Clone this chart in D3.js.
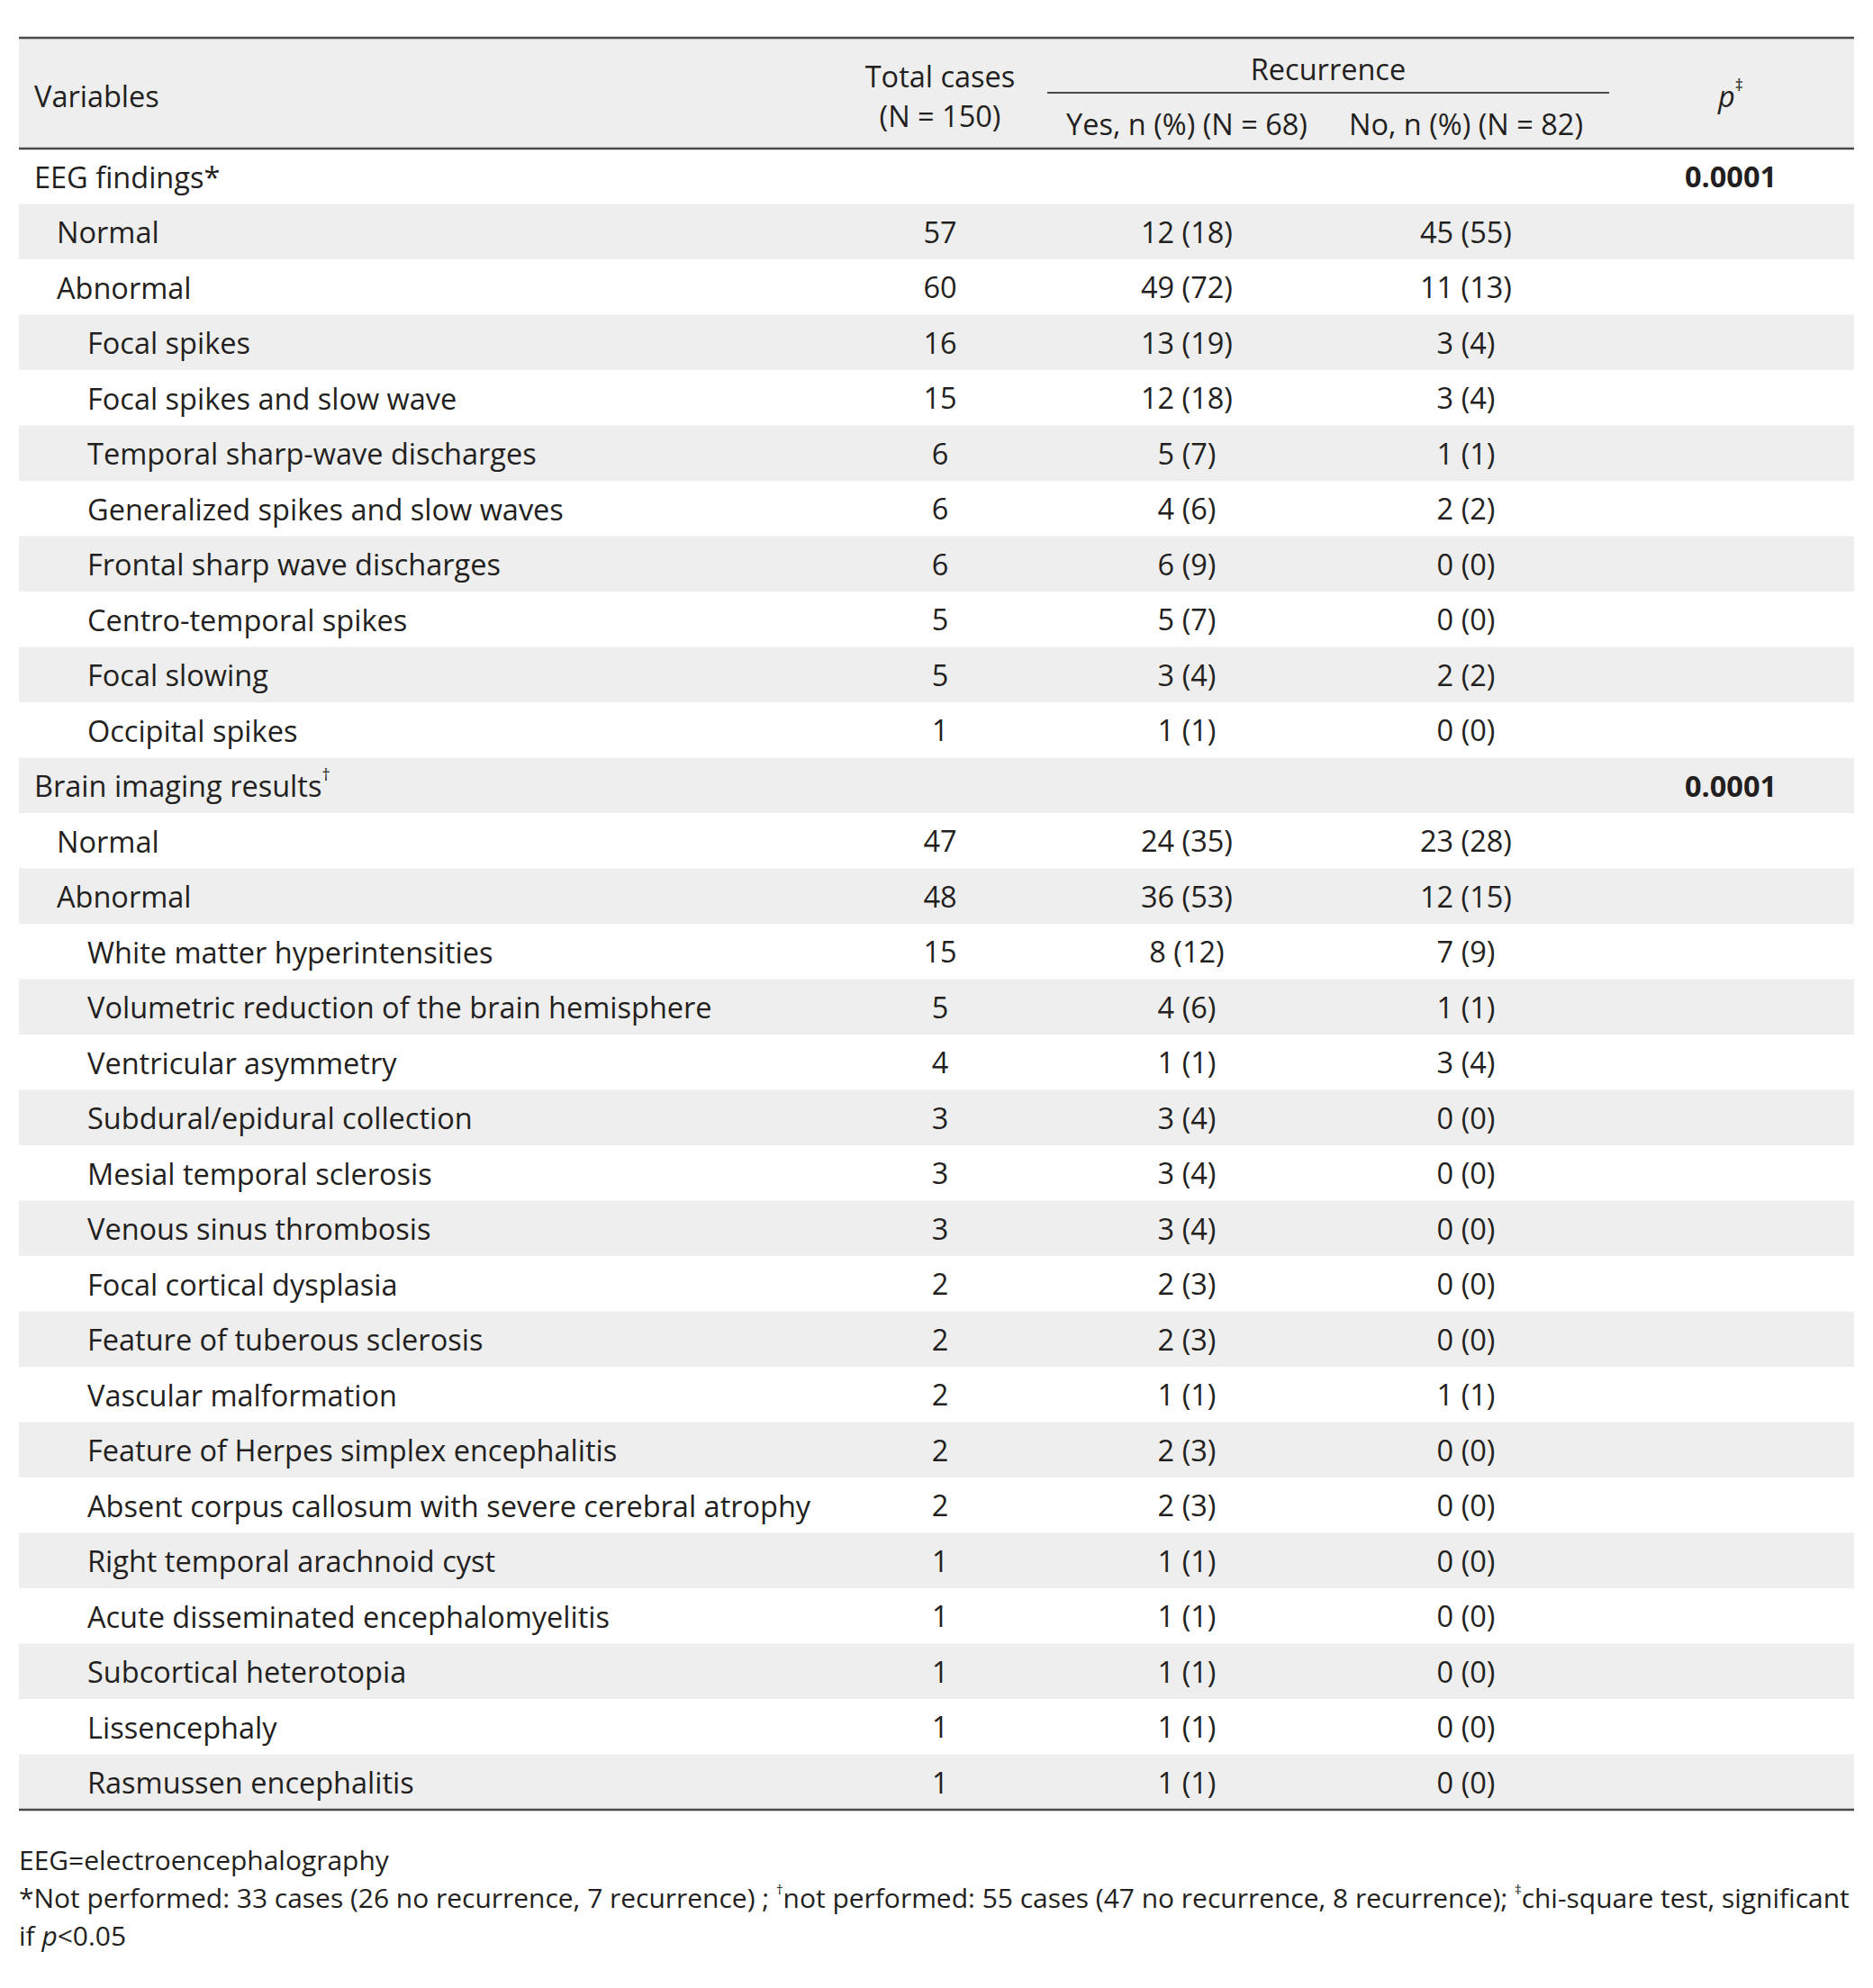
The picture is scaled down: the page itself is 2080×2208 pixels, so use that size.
<!DOCTYPE html>
<html>
<head>
<meta charset="utf-8">
<script src="https://cdn.jsdelivr.net/npm/d3@7"></script>
<style>
  html, body { margin: 0; padding: 0; background: #fff; }
  svg { display: block; }
  text { font-family: "Open Sans", "Noto Sans", sans-serif; fill: #231f20; }
</style>
</head>
<body>
<svg id="chart" width="2080" height="2208"></svg>
<script>
// ---- data ----
const labels = [
  "EEG findings", "Normal", "Abnormal", "Focal spikes", "Focal spikes and slow wave",
  "Temporal sharp-wave discharges", "Generalized spikes and slow waves",
  "Frontal sharp wave discharges", "Centro-temporal spikes", "Focal slowing", "Occipital spikes",
  "Brain imaging results", "Normal", "Abnormal", "White matter hyperintensities",
  "Volumetric reduction of the brain hemisphere", "Ventricular asymmetry",
  "Subdural/epidural collection", "Mesial temporal sclerosis", "Venous sinus thrombosis",
  "Focal cortical dysplasia", "Feature of tuberous sclerosis", "Vascular malformation",
  "Feature of Herpes simplex encephalitis", "Absent corpus callosum with severe cerebral atrophy",
  "Right temporal arachnoid cyst", "Acute disseminated encephalomyelitis",
  "Subcortical heterotopia", "Lissencephaly", "Rasmussen encephalitis"
];
const labelMarks = ["*", "", "", "", "", "", "", "", "", "", "", "\u2020", "", "", "", "", "", "", "", "", "", "", "", "", "", "", "", "", "", ""];
const levels = [0,1,1,2,2,2,2,2,2,2,2, 0,1,1,2,2,2,2,2,2,2,2,2,2,2,2,2,2,2,2];
const totals = [null,57,60,16,15,6,6,6,5,5,1, null,47,48,15,5,4,3,3,3,2,2,2,2,2,1,1,1,1,1];
const yesN   = [null,12,49,13,12,5,4,6,5,3,1, null,24,36,8,4,1,3,3,3,2,2,1,2,2,1,1,1,1,1];
const yesPct = [null,18,72,19,18,7,6,9,7,4,1, null,35,53,12,6,1,4,4,4,3,3,1,3,3,1,1,1,1,1];
const noN    = [null,45,11,3,3,1,2,0,0,2,0, null,23,12,7,1,3,0,0,0,0,0,1,0,0,0,0,0,0,0];
const noPct  = [null,55,13,4,4,1,2,0,0,2,0, null,28,15,9,1,4,0,0,0,0,0,1,0,0,0,0,0,0,0];
const pValues = ["0.0001", null,null,null,null,null,null,null,null,null,null, "0.0001", null,null,null,null,null,null,null,null,null,null,null,null,null,null,null,null,null,null];
const columnKeys = ["total", "yes", "no", "p"];
const headerTotal = ["Total cases", "(N = 150)"];
const headerYes = "Yes, n (%) (N = 68)";
const headerNo = "No, n (%) (N = 82)";
const footnotes = ["EEG=electroencephalography"];

// ---- layout ----
const svg = d3.select("#chart");
const left = 21, right = 2059;
const topY = 42, headBottom = 165, bottomY = 2010;
const fs = 32.5;
const stripe = "#eeeeee";
const lineColor = "#4a4a4a";

const y = d3.scaleBand().domain(d3.range(labels.length)).range([headBottom, bottomY]).padding(0);
const xCol = d3.scaleOrdinal().domain(columnKeys).range([1044, 1318, 1628, 1922]);
const indent = d3.scaleOrdinal().domain([0,1,2]).range([38, 63, 97]);

// header background
svg.append("rect").attr("x", left).attr("y", topY).attr("width", right-left).attr("height", headBottom-topY).attr("fill", stripe);

// stripes
svg.append("g").selectAll("rect").data(d3.range(labels.length).filter(i => i % 2 === 1)).join("rect")
  .attr("x", left).attr("y", i => y(i)).attr("width", right-left).attr("height", y.bandwidth()).attr("fill", stripe);

// lines
const hl = (yy, x1, x2, w) => svg.append("line").attr("x1", x1).attr("x2", x2).attr("y1", yy).attr("y2", yy)
  .attr("stroke", lineColor).attr("stroke-width", w);
hl(topY, left, right, 2.5);
hl(headBottom, left, right, 2.5);
hl(bottomY, left, right, 2.5);
hl(103, 1163, 1787, 1.8);

// header text
const hdr = svg.append("g").attr("font-size", fs);
hdr.append("text").attr("x", 38).attr("y", 106).attr("dominant-baseline", "central").text("Variables");
hdr.append("text").attr("x", xCol("total")).attr("y", 84).attr("text-anchor", "middle").attr("dominant-baseline", "central").text(headerTotal[0]);
hdr.append("text").attr("x", xCol("total")).attr("y", 128).attr("text-anchor", "middle").attr("dominant-baseline", "central").text(headerTotal[1]);
hdr.append("text").attr("x", (1163+1787)/2).attr("y", 76).attr("text-anchor", "middle").attr("dominant-baseline", "central").text("Recurrence");
hdr.append("text").attr("x", xCol("yes")).attr("y", 137).attr("text-anchor", "middle").attr("dominant-baseline", "central").text(headerYes);
hdr.append("text").attr("x", xCol("no")).attr("y", 137).attr("text-anchor", "middle").attr("dominant-baseline", "central").text(headerNo);
const pt = hdr.append("text").attr("x", xCol("p")).attr("y", 106).attr("text-anchor", "middle").attr("dominant-baseline", "central");
pt.append("tspan").attr("font-style", "italic").text("p");
pt.append("tspan").attr("font-size", 18).attr("dy", -12).text("\u2021");

// body rows
const rows = svg.append("g").attr("font-size", fs).selectAll("g").data(d3.range(labels.length)).join("g")
  .attr("transform", i => `translate(0,${y(i) + y.bandwidth()/2})`);

const lab = rows.append("text").attr("x", i => indent(levels[i])).attr("dominant-baseline", "central");
lab.append("tspan").text(i => labels[i]);
lab.filter(i => labelMarks[i] === "*").append("tspan").text("*");
lab.filter(i => labelMarks[i] === "\u2020").append("tspan").attr("font-size", 18).attr("dy", -12).text("\u2020");

rows.filter(i => totals[i] !== null).append("text").attr("x", xCol("total")).attr("text-anchor", "middle")
  .attr("dominant-baseline", "central").text(i => totals[i]);
rows.filter(i => yesN[i] !== null).append("text").attr("x", xCol("yes")).attr("text-anchor", "middle")
  .attr("dominant-baseline", "central").text(i => `${yesN[i]} (${yesPct[i]})`);
rows.filter(i => noN[i] !== null).append("text").attr("x", xCol("no")).attr("text-anchor", "middle")
  .attr("dominant-baseline", "central").text(i => `${noN[i]} (${noPct[i]})`);
rows.filter(i => pValues[i] !== null).append("text").attr("x", xCol("p")).attr("text-anchor", "middle")
  .attr("dominant-baseline", "central").attr("font-weight", "bold").text(i => pValues[i]);

// footnotes
const fn = svg.append("g").attr("font-size", 26);
fn.append("text").attr("x", left).attr("y", 2065).attr("dominant-baseline", "central").text(footnotes[0]);
const f2 = fn.append("text").attr("x", left).attr("y", 2107).attr("dominant-baseline", "central");
f2.append("tspan").text("*Not performed: 33 cases (26 no recurrence, 7 recurrence) ; ");
f2.append("tspan").attr("font-size", 15).attr("dy", -9).text("\u2020");
f2.append("tspan").attr("dy", 9).text("not performed: 55 cases (47 no recurrence, 8 recurrence); ");
f2.append("tspan").attr("font-size", 15).attr("dy", -9).text("\u2021");
f2.append("tspan").attr("dy", 9).text("chi-square test, significant");
const f3 = fn.append("text").attr("x", left).attr("y", 2149).attr("dominant-baseline", "central");
f3.append("tspan").text("if ");
f3.append("tspan").attr("font-style", "italic").text("p");
f3.append("tspan").text("<0.05");

// fit footnote line 2 to the table width
const w2 = f2.node().getComputedTextLength();
fn.attr("font-size", 26 * (right - left - 2) / w2);
</script>
</body>
</html>
